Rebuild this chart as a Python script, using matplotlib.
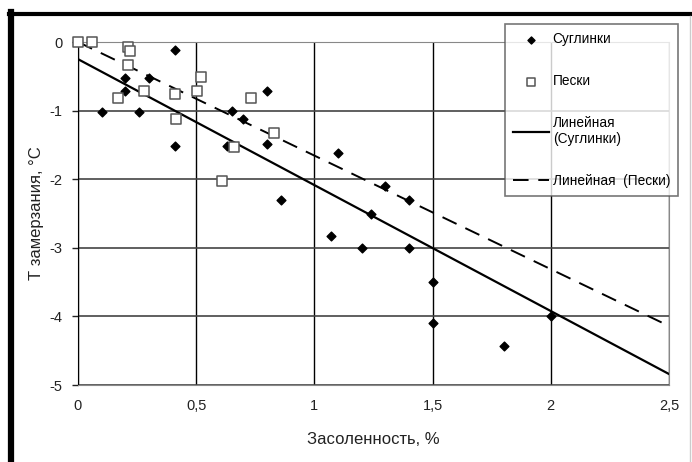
import matplotlib
matplotlib.use("Agg")
import matplotlib.pyplot as plt
import numpy as np

plt.rcParams['font.family'] = ['Liberation Sans', 'DejaVu Sans']

# Суглинки
loam_x = [0.1, 0.2, 0.2, 0.26, 0.3, 0.41, 0.41, 0.65, 0.7, 0.8, 0.8, 0.86,
          1.07, 1.1, 1.2, 1.24, 1.3, 1.4, 1.4, 1.5, 1.5, 1.8, 2.0, 0.63]
loam_y = [-1.02, -0.52, -0.71, -1.02, -0.52, -0.12, -1.52, -1.0, -1.12, -0.71, -1.49, -2.3,
          -2.83, -1.62, -3.0, -2.5, -2.1, -2.3, -3.0, -3.5, -4.1, -4.43, -4.0, -1.52]

# Пески
sand_x = [0.0, 0.06, 0.21, 0.22, 0.21, 0.17, 0.28, 0.41, 0.415, 0.52, 0.505,
          0.73, 0.83, 0.61, 0.66]
sand_y = [0.0, 0.0, -0.07, -0.13, -0.33, -0.81, -0.71, -0.76, -1.12, -0.51, -0.71,
          -0.82, -1.32, -2.02, -1.53]

# linear trends: slope, intercept
loam_trend = [-1.836, -0.25]
sand_trend = [-1.656, -0.0]

x_ticks = [0, 0.5, 1, 1.5, 2, 2.5]
x_labels = ['0', '0,5', '1', '1,5', '2', '2,5']
y_ticks = [0, -1, -2, -3, -4, -5]

fig = plt.figure(figsize=(6.92, 4.62), dpi=100)
ax = fig.add_axes([78 / 692, 1 - 385 / 462, 591 / 692, 343 / 462])

xs = np.array([0, 2.5])
ax.scatter(loam_x, loam_y, marker='D', s=20, color='black', zorder=3,
           clip_on=False, label='Суглинки')
ax.scatter(sand_x, sand_y, marker='s', s=45, facecolor='white',
           edgecolor='#555555', linewidths=1.1, zorder=3, clip_on=False,
           label='Пески')
ax.plot(xs, np.polyval(loam_trend, xs), color='black', lw=1.6, zorder=2,
        label='Линейная\n(Суглинки)')
ax.plot(xs, np.polyval(sand_trend, xs), color='black', lw=1.4,
        dashes=(8, 5), zorder=2, label='Линейная  (Пески)')

ax.set_xlim(0, 2.5)
ax.set_ylim(-5, 0)
ax.set_xticks(x_ticks)
ax.set_xticklabels(x_labels)
ax.set_yticks(y_ticks)
ax.set_yticklabels(['0', '-1', '-2', '-3', '-4', '-5'])
ax.tick_params(axis='both', labelsize=10.5, colors='#222222', length=4,
               width=1, direction='out', pad=7)
ax.tick_params(axis='x', length=0, pad=10)
ax.xaxis.grid(True, color='black', lw=1)
ax.yaxis.grid(True, color='#444444', lw=1.2)
ax.set_axisbelow(True)
for side in ['top', 'right', 'bottom']:
    ax.spines[side].set_color('#888888')
ax.spines['left'].set_color('black')

ax.set_xlabel('Засоленность, %', fontsize=12, color='#222222', labelpad=14)
ax.set_ylabel('Т замерзания, °С', fontsize=12, color='#222222', labelpad=4)

leg = ax.legend(loc='upper left', bbox_to_anchor=(427 / 591, 1.052),
                fontsize=9.8, frameon=True, fancybox=False,
                edgecolor='#555555', borderpad=0.6, labelspacing=2.05,
                handlelength=2.6, handletextpad=0.3, borderaxespad=0,
                scatterpoints=1, markerscale=0.8)
leg.get_frame().set_linewidth(1.2)
leg.set_zorder(5)

# figure frame
fig.add_artist(plt.Line2D([11 / 692, 11 / 692], [0, 1 - 12 / 462],
                          color='black', lw=4.5, transform=fig.transFigure))
fig.add_artist(plt.Line2D([9 / 692, 1], [1 - 14 / 462, 1 - 14 / 462],
                          color='black', lw=3, transform=fig.transFigure))
fig.add_artist(plt.Line2D([690 / 692, 690 / 692], [0, 1 - 16 / 462],
                          color='#cccccc', lw=1, transform=fig.transFigure))

fig.savefig('out.png', dpi=100)
